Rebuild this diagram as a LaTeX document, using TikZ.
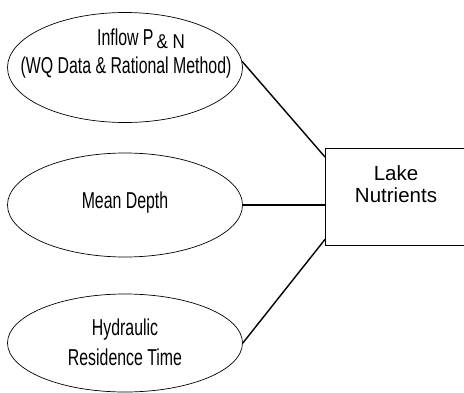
\documentclass[tikz,border=0pt]{standalone}
\usepackage{fontspec}
\setmainfont{Liberation Sans}
\newfontfamily\condfont[FakeStretch=0.69]{Liberation Sans}
\newfontfamily\ampfont[FakeStretch=0.85]{Liberation Sans}
\usetikzlibrary{shapes.geometric}
\begin{document}
\begin{tikzpicture}[x=1pt,y=-1pt,
  ell/.style={draw, ellipse, line width=0.7pt, inner sep=0pt, minimum width=235pt, minimum height=110pt},
  elltext/.style={font=\condfont\fontsize{23}{25}\selectfont, align=center, inner sep=0pt, anchor=base},
  laketext/.style={font=\fontsize{20.5}{24}\selectfont, align=center, inner sep=0pt, anchor=base},
  conn/.style={line width=1.4pt},
  lakebox/.style={draw, line width=1.4pt, rectangle, inner sep=0pt, anchor=north west, minimum width=160pt, minimum height=97pt}]
\clip (0,0) rectangle (464,392);
\fill[white] (0,0) rectangle (464,392);
% ellipses
\node[ell] (e1) at (125,67.5) {};
\node[ell, minimum height=104pt] (e2) at (125,205) {};
\node[ell, minimum height=98pt] (e3) at (125,343) {};
% ellipse texts
\node[elltext] (t1a) at (141,45) {Inflow P\hspace{3pt}\raisebox{-3pt}{\fontsize{20}{22}\ampfont \& N}};
\node[elltext] (t1b) at (126,73) {(WQ Data \& Rational Method)};
\node[elltext] (t2) at (125,208) {Mean Depth};
\node[elltext] (t3a) at (125,335) {Hydraulic};
\node[elltext] (t3b) at (125,365) {Residence Time};
% box
\node[lakebox] (lake) at (325,148) {};
\node[laketext] (lt1) at (396,180) {Lake};
\node[laketext] (lt2) at (396,202) {Nutrients};
% connectors
\draw[conn] (e1.3.5) -- ([yshift=-9pt]lake.north west);
\draw[conn] (e2.east) -- (lake.west |- e2.east);
\draw[conn] (e3.east) -- ([yshift=7pt]lake.south west);
\end{tikzpicture}
\end{document}
